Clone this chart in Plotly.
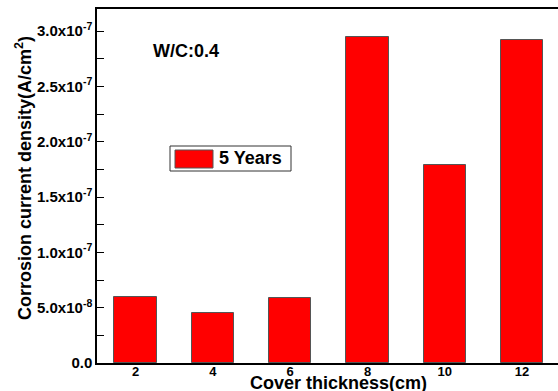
import plotly.graph_objects as go

# Cover thickness (cm) and corrosion current density (A/cm^2) after 5 years
thickness = [2, 4, 6, 8, 10, 12]
current_density = [6.0e-8, 4.55e-8, 5.87e-8, 2.95e-7, 1.79e-7, 2.92e-7]
series_name = "5 Years"

y_tick_vals = [0, 0.5e-7, 1.0e-7, 1.5e-7, 2.0e-7, 2.5e-7, 3.0e-7]
y_tick_text = ["0.0", "5.0x10<sup>-8</sup>", "1.0x10<sup>-7</sup>", "1.5x10<sup>-7</sup>",
               "2.0x10<sup>-7</sup>", "2.5x10<sup>-7</sup>", "3.0x10<sup>-7</sup>"]
x_tick_vals = [2, 4, 6, 8, 10, 12]
x_tick_text = ["2", "4", "6", "8", "10", "12"]

W, H = 558, 391
ML, MR, MT, MB = 97, 0, 9, 28
PW, PH = W - ML - MR, H - MT - MB

FONT = "Liberation Sans, Arial, sans-serif"


def px(xp):
    return (xp - ML) / PW


def py(yp):
    return (H - MB - yp) / PH


def bold(labels):
    return ["<b>" + t + "</b>" for t in labels]


fig = go.Figure()
fig.add_trace(go.Bar(
    x=thickness, y=current_density, width=1.1, name=series_name,
    marker=dict(color="#ff0000", line=dict(color="#555555", width=1)),
    showlegend=False,
))

fig.update_layout(
    width=W, height=H,
    margin=dict(l=ML, r=MR, t=MT, b=MB),
    paper_bgcolor="white", plot_bgcolor="white",
    font=dict(family=FONT, color="black"),
    bargap=0,
    xaxis=dict(
        range=[1, 12.93], tickvals=x_tick_vals, ticktext=bold(x_tick_text), ticks="",
        ticklabelstandoff=-4,
        showline=True, linecolor="black", linewidth=1.5, mirror=True,
        showgrid=False, zeroline=False,
        tickfont=dict(size=13, family=FONT, color="black"),
    ),
    yaxis=dict(
        range=[0, 3.2e-7], tickvals=y_tick_vals, ticktext=bold(y_tick_text),
        ticks="inside", ticklen=7, tickwidth=1.2, tickcolor="black",
        minor=dict(dtick=2.5e-8, ticks="inside", ticklen=7, tickwidth=1.2,
                   tickcolor="black", showgrid=False),
        showline=True, linecolor="black", linewidth=1.5, mirror=False,
        showgrid=False, zeroline=False,
        tickfont=dict(size=15, family=FONT, color="black"),
    ),
)

# legend box drawn by hand
fig.add_shape(type="rect", xref="paper", yref="paper",
              x0=px(170), x1=px(291), y0=py(171), y1=py(146),
              line=dict(color="#333333", width=1), fillcolor="white")
fig.add_shape(type="rect", xref="paper", yref="paper",
              x0=px(175), x1=px(213), y0=py(168), y1=py(150),
              line=dict(color="#555555", width=1), fillcolor="#ff0000")

annotations = [
    dict(text="<b>" + series_name + "</b>", x=px(217), y=py(158),
         xanchor="left", yanchor="middle", font=dict(size=18)),
    dict(text="<b>W/C:0.4</b>", x=px(151), y=py(51),
         xanchor="left", yanchor="middle", font=dict(size=18)),
    dict(text="<b>Cover thickness(cm)</b>", x=px(338), y=0,
         xanchor="center", yanchor="top", yshift=-8, font=dict(size=18)),
    dict(text="<b>Corrosion current density(A/cm<sup>2</sup>)</b>",
         x=px(23), y=py(178), textangle=-90,
         xanchor="center", yanchor="middle", font=dict(size=18)),
]
for a in annotations:
    a.update(xref="paper", yref="paper", showarrow=False)
    a["font"]["family"] = FONT
    a["font"]["color"] = "black"
fig.update_layout(annotations=annotations)

fig.write_html("out.html")
